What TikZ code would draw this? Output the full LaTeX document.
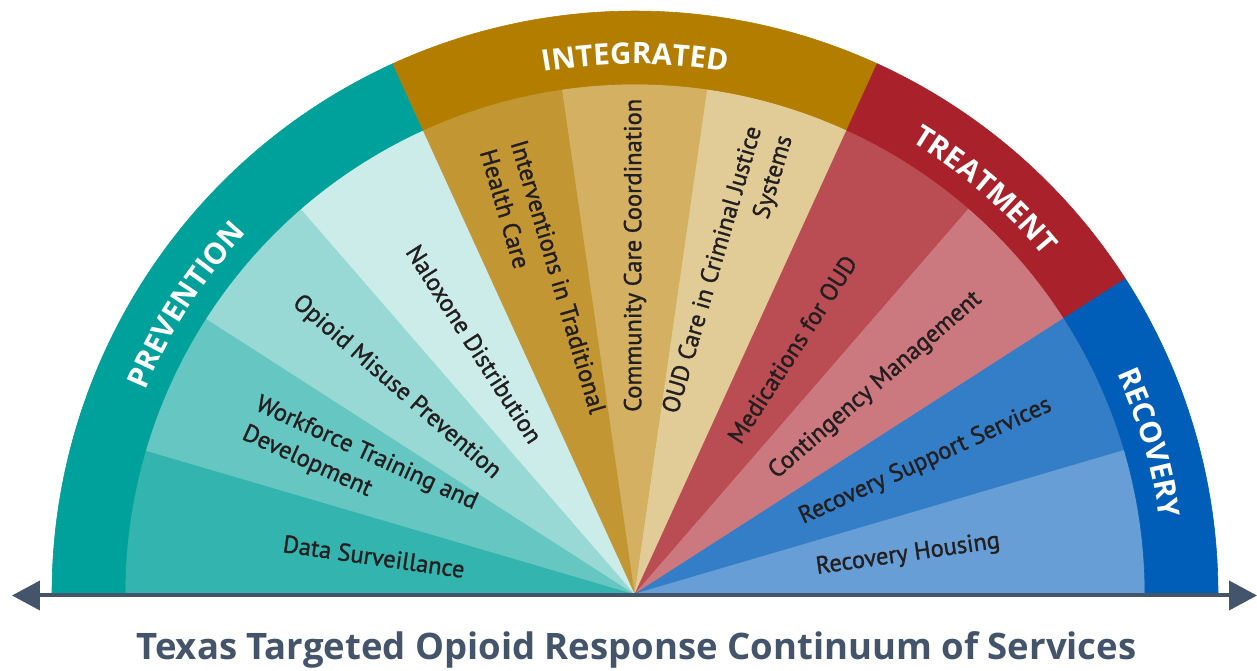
\documentclass[tikz,border=0pt]{standalone}
\usepackage{fontspec}
\setmainfont{PT Sans}
\newfontfamily\lblfam{PT Sans}[FakeBold=1.2]
\newfontfamily\headfam{Open Sans}
\usetikzlibrary{arrows.meta,decorations.text}
\definecolor{cprev}{HTML}{00A19B}
\definecolor{cds}{HTML}{33B4AE}
\definecolor{cwf}{HTML}{66C7C2}
\definecolor{com}{HTML}{99D9D5}
\definecolor{cnd}{HTML}{CCECEA}
\definecolor{cint}{HTML}{B37D00}
\definecolor{citc}{HTML}{C39634}
\definecolor{cccc}{HTML}{D3B062}
\definecolor{coud}{HTML}{E1CC97}
\definecolor{ctreat}{HTML}{A9212B}
\definecolor{cmed}{HTML}{BA4D54}
\definecolor{ccm}{HTML}{CB787E}
\definecolor{crec}{HTML}{005EB8}
\definecolor{crss}{HTML}{337EC6}
\definecolor{crh}{HTML}{669ED5}
\definecolor{slate}{HTML}{44546A}
\definecolor{labeltext}{HTML}{231F20}
\newcommand\bandfont{\headfam\fontsize{29.5}{32}\selectfont\bfseries}
\begin{document}
\begin{tikzpicture}
\useasboundingbox (-635pt,-77pt) rectangle (622pt,594pt);
\tikzset{
  wedgefill/.style={fill=#1, draw=#1, line width=0.6pt, line join=round},
  lbl/.style={font=\lblfam\fontsize{24.5}{32}\selectfont, text=labeltext, inner sep=0pt},
  bandtext/.style={decorate, decoration={text along path, text align=center, text color=white, text={|\bandfont|#1}}},
}
\def\Rout{583pt}
\def\Rin{510pt}
% inner wedges
\foreach \i/\c in {0/cds,1/cwf,2/com,3/cnd,4/citc,5/cccc,6/coud,7/cmed,8/ccm,9/crss,10/crh}{
  \pgfmathsetmacro\aa{180-\i*180/11}
  \pgfmathsetmacro\bb{180-(\i+1)*180/11}
  \path[wedgefill=\c] (0,0) -- (\aa:\Rin) arc[start angle=\aa, end angle=\bb, radius=\Rin] -- cycle;
}
% outer bands
\foreach \s/\e/\c in {0/4/cprev,4/7/cint,7/9/ctreat,9/11/crec}{
  \pgfmathsetmacro\aa{180-\s*180/11}
  \pgfmathsetmacro\bb{180-\e*180/11}
  \path[wedgefill=\c] (\aa:\Rin) -- (\aa:\Rout) arc[start angle=\aa, end angle=\bb, radius=\Rout] -- (\bb:\Rin) arc[start angle=\bb, end angle=\aa, radius=\Rin] -- cycle;
}
% band titles
\path[bandtext=PREVENTION] (177.27:530pt) arc[start angle=177.27, end angle=117.27, radius=530pt];
\path[bandtext=INTEGRATED] (120:530pt) arc[start angle=120, end angle=60, radius=530pt];
\path[bandtext=TREATMENT] (79.09:530pt) arc[start angle=79.09, end angle=19.09, radius=530pt];
\path[bandtext=RECOVERY] (46.36:530pt) arc[start angle=46.36, end angle=-13.64, radius=530pt];
% labels, left side (reading inward)
\node[lbl, anchor=east, rotate=-8.182, align=left] (l0) at (171.818:172pt) {Data Surveillance};
\node[lbl, anchor=east, rotate=-24.545, align=left] (l1) at (155.455:182pt) {Workforce Training and\\Development};
\node[lbl, anchor=east, rotate=-40.909, align=left] (l2) at (139.091:182pt) {Opioid Misuse Prevention};
\node[lbl, anchor=east, rotate=-57.273, align=left] (l3) at (122.727:182pt) {Naloxone Distribution};
\node[lbl, anchor=east, rotate=-73.636, align=left] (l4) at (106.364:184pt) {Interventions in Traditional\\Health Care};
% labels, right side (reading outward)
\node[lbl, anchor=west, rotate=90, align=right] (l5) at (90:182pt) {Community Care Coordination};
\node[lbl, anchor=west, rotate=73.636, align=right] (l6) at (73.636:184pt) {OUD Care in Criminal Justice\\Systems};
\node[lbl, anchor=west, rotate=57.273, align=right] (l7) at (57.273:182pt) {Medications for OUD};
\node[lbl, anchor=west, rotate=40.909, align=right] (l8) at (40.909:182pt) {Contingency Management};
\node[lbl, anchor=west, rotate=24.545, align=right] (l9) at (24.545:182pt) {Recovery Support Services};
\node[lbl, anchor=west, rotate=8.182, align=right] (l10) at (8.182:183pt) {Recovery Housing};
% baseline arrow
\coordinate (aL) at (-623pt,-1.5pt);
\coordinate (aR) at (622pt,-1.5pt);
\draw[slate, line width=4pt, {Triangle[length=28pt,width=29pt]}-{Triangle[length=28pt,width=29pt]}] (aL) -- (aR);
% title
\node[font=\headfam\bfseries\fontsize{36.5}{40}\selectfont, text=slate, anchor=base, inner sep=0pt] (title) at (1.5pt,-66pt) {Texas Targeted Opioid Response Continuum of Services};
\end{tikzpicture}
\end{document}
